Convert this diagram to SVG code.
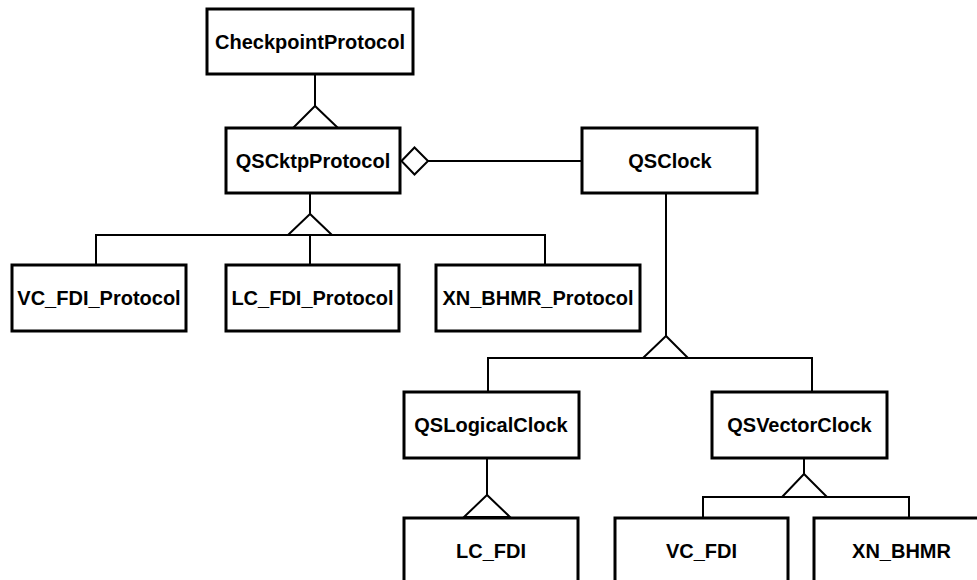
<svg xmlns="http://www.w3.org/2000/svg" width="977" height="580" viewBox="0 0 977 580">
<style>
.box{fill:#fff;stroke:#000;stroke-width:3}
.lbl{font-family:"Liberation Sans",Arial,sans-serif;font-weight:bold;font-size:20px;text-anchor:middle;fill:#000}
.ln{fill:none;stroke:#000;stroke-width:2}
.tri{fill:#fff;stroke:#000;stroke-width:2;stroke-linejoin:miter}
</style>
<rect width="977" height="580" fill="#fff"/>
<g id="connectors">
  <!-- CheckpointProtocol <- QSCktpProtocol -->
  <line class="ln" x1="315" y1="74" x2="315" y2="106"/>
  <polygon class="tri" points="315,106 293,128 338,128"/>
  <!-- QSCktpProtocol <- subclasses -->
  <line class="ln" x1="310" y1="193" x2="310" y2="214"/>
  <polyline class="ln" points="96,265 96,235 545,235 545,265"/>
  <line class="ln" x1="310" y1="235" x2="310" y2="265"/>
  <polygon class="tri" points="310,214 288,235 332,235"/>
  <!-- aggregation -->
  <line class="ln" x1="428" y1="161" x2="582" y2="161"/>
  <polygon class="tri" points="401.5,161 414.5,147.5 428,161 414.5,174.5"/>
  <!-- QSClock <- subclasses -->
  <line class="ln" x1="666" y1="193" x2="666" y2="336"/>
  <polyline class="ln" points="488,392 488,358 812,358 812,392"/>
  <polygon class="tri" points="666,336 643,358 688,358"/>
  <!-- QSLogicalClock <- LC_FDI -->
  <line class="ln" x1="487" y1="458" x2="487" y2="495"/>
  <polygon class="tri" points="487,495 464,517 510,517"/>
  <!-- QSVectorClock <- VC_FDI, XN_BHMR -->
  <line class="ln" x1="804" y1="458" x2="804" y2="474"/>
  <polyline class="ln" points="703,518 703,497 909,497 909,518"/>
  <polygon class="tri" points="804,474 782,497 827,497"/>
</g>
<g id="CheckpointProtocol"><rect class="box" x="207" y="9" width="206" height="65"/><text class="lbl" x="310" y="49">CheckpointProtocol</text></g>
<g id="QSCktpProtocol"><rect class="box" x="226" y="128" width="174" height="65"/><text class="lbl" x="313" y="168">QSCktpProtocol</text></g>
<g id="QSClock"><rect class="box" x="582" y="128" width="175" height="65"/><text class="lbl" x="670" y="168">QSClock</text></g>
<g id="VC_FDI_Protocol"><rect class="box" x="12" y="265" width="174" height="66"/><text class="lbl" x="99" y="305">VC_FDI_Protocol</text></g>
<g id="LC_FDI_Protocol"><rect class="box" x="226" y="265" width="173" height="66"/><text class="lbl" x="312.5" y="305">LC_FDI_Protocol</text></g>
<g id="XN_BHMR_Protocol"><rect class="box" x="436" y="265" width="204" height="66"/><text class="lbl" x="538" y="305">XN_BHMR_Protocol</text></g>
<g id="QSLogicalClock"><rect class="box" x="404" y="392" width="175" height="66"/><text class="lbl" x="491" y="432">QSLogicalClock</text></g>
<g id="QSVectorClock"><rect class="box" x="712" y="392" width="175" height="66"/><text class="lbl" x="799.5" y="432">QSVectorClock</text></g>
<g id="LC_FDI"><rect class="box" x="404" y="518" width="174" height="66"/><text class="lbl" x="491" y="558">LC_FDI</text></g>
<g id="VC_FDI"><rect class="box" x="615" y="518" width="173" height="66"/><text class="lbl" x="701.5" y="558">VC_FDI</text></g>
<g id="XN_BHMR"><rect class="box" x="814" y="518" width="175" height="66"/><text class="lbl" x="901.5" y="558">XN_BHMR</text></g>
</svg>
